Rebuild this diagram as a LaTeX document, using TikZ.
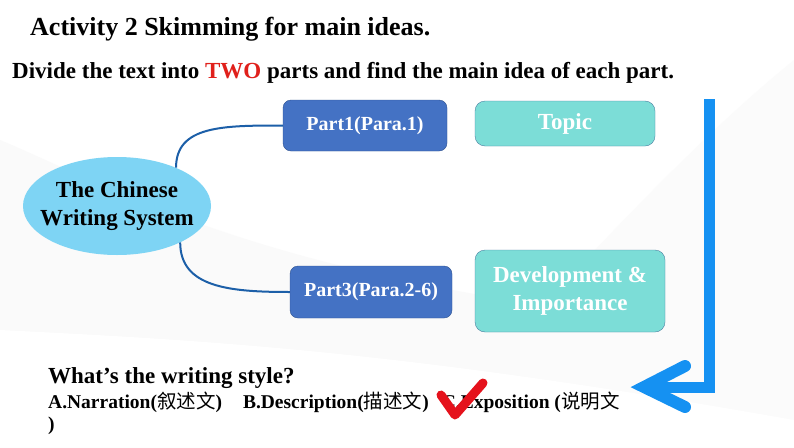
\documentclass[tikz,border=0pt]{standalone}
\usepackage{fontspec}
\setmainfont{Liberation Serif}
\newfontfamily\cjk{Noto Sans CJK SC}
\usetikzlibrary{shapes.geometric, positioning, arrows.meta}
\definecolor{partblue}{HTML}{4472C4}
\definecolor{partedge}{HTML}{2F528F}
\definecolor{ideafill}{HTML}{7CDDD7}
\definecolor{ideaedge}{HTML}{4A7FA0}
\definecolor{ovalfill}{HTML}{7ED4F4}
\definecolor{linkblue}{HTML}{1C5FA8}
\definecolor{arrowblue}{HTML}{1591F2}
\definecolor{tickred}{HTML}{E5121C}
\definecolor{twored}{HTML}{E0201B}

\begin{document}
\begin{tikzpicture}[x=1pt, y=-1pt,
  part/.style={draw=partedge, fill=partblue, rounded corners=8pt, text=white, align=center, font=\bfseries\fontsize{20}{24}\selectfont},
  idea/.style={draw=ideaedge, fill=ideafill, rounded corners=10pt, text=white, align=center, font=\bfseries\fontsize{23}{28}\selectfont},
  oval/.style={ellipse, fill=ovalfill, inner xsep=-11pt, inner ysep=0pt, align=center, font=\bfseries\fontsize{23}{28}\selectfont},
  link/.style={draw=linkblue, line width=2pt},
  bigarrow/.style={draw=arrowblue, line width=11pt},
  plain/.style={inner sep=0pt, anchor=base west}]

  \useasboundingbox[fill=white] (0,0) rectangle (794,447);
  \fill[gray!4] (0,140) .. controls (120,190) and (300,300) .. (794,330) -- (794,447) -- (0,447) -- cycle;
  \fill[gray!3] (520,330) .. controls (640,200) and (720,120) .. (794,60) -- (794,447) -- (520,447) -- cycle;
  \fill[white] (0,330) .. controls (200,340) and (400,350) .. (794,420) -- (794,447) -- (0,447) -- cycle;

  \node[plain, font=\bfseries\fontsize{26}{30}\selectfont] (title) at (30,35) {Activity 2 Skimming for main ideas.};
  \node[plain, font=\bfseries\fontsize{23}{28}\selectfont] (task) at (12,78) {Divide the text into \textcolor{twored}{TWO} parts and find the main idea of each part.};

  \node[oval, minimum width=188pt, minimum height=98pt] (sys) at (117,206) {The Chinese\\Writing System};
  \node[part, minimum width=164pt, minimum height=51pt] (part1) at (365,125.5) {Part1(Para.1)};
  \node[part, minimum width=162pt, minimum height=52pt] (part3) at (371,292) {Part3(Para.2-6)};
  \node[idea, minimum width=180pt, minimum height=45pt] (topic) at (565,123.5) {Topic};
  \node[idea, minimum width=190pt, minimum height=82pt] (dev) at (570,291) {Development \&\\Importance};

  \draw[link] (sys.33) .. controls +(0,-42) and +(-60,0) .. (part1.west);
  \draw[link] (sys.-30) .. controls +(0,45) and +(-60,0) .. (part3.west);

  \coordinate (atop) at (709,99);
  \coordinate (abend) at (709,387);
  \coordinate (atip) at (644,387);
  \draw[bigarrow] (atop) -- (abend) -- (atip);
  \draw[bigarrow, line width=12pt, line cap=round, line join=miter] ([shift={(41,-21)}]atip) -- (atip) -- ([shift={(41,20)}]atip);

  \node[plain, font=\bfseries\fontsize{23}{28}\selectfont] (ask) at (48,383) {What's the writing style?};
  \node[plain, font=\bfseries\fontsize{19.5}{23}\selectfont] (opts) at (48,408) {A.Narration({\cjk\mdseries 叙述文})\hspace{21pt}B.Description({\cjk\mdseries 描述文})\hspace{13pt}C.Exposition ({\cjk\mdseries 说明文}};
  \node[plain, font=\bfseries\fontsize{19.5}{23}\selectfont] (close) at (48,430) {)};

  \coordinate (tka) at (441,395);
  \coordinate (tkb) at (455,415);
  \coordinate (tkc) at (483,383);
  \draw[tickred, line width=9pt, line cap=round, line join=round] (tka) -- (tkb) -- (tkc);
\end{tikzpicture}
\end{document}
